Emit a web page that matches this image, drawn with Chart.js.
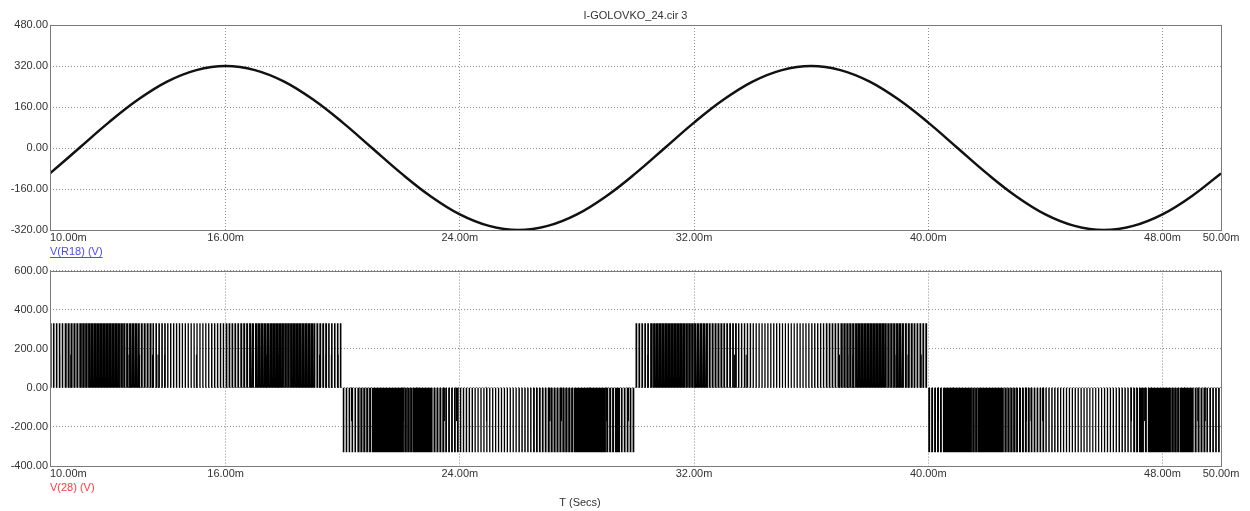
<!DOCTYPE html>
<html>
<head>
<meta charset="utf-8">
<script src="https://cdn.jsdelivr.net/npm/chart.js@4.4.1/dist/chart.umd.min.js"></script>
<style>
  html, body { margin: 0; padding: 0; background: #fff; }
  #wrap { position: relative; width: 1250px; height: 511px; }
  #topChart { position: absolute; left: 0; top: 0; }
  #bottomChart { position: absolute; left: 0; top: 262px; }
</style>
</head>
<body>
<div id="wrap">
  <canvas id="topChart" width="1250" height="262"></canvas>
  <canvas id="bottomChart" width="1250" height="249"></canvas>
</div>
<script>
// Sample Data (times in ms)

const xTicks = [10, 16, 24, 32, 40, 48, 50];
const topYTicks = [480, 320, 160, 0, -160, -320];
const bottomYTicks = [600, 400, 200, 0, -200, -400];

// V(R18): sampled every 1 ms
const sineTimes = [10, 11, 12, 13, 14, 15, 16, 17, 18, 19, 20, 21, 22, 23, 24, 25, 26, 27, 28, 29, 30,
                   31, 32, 33, 34, 35, 36, 37, 38, 39, 40, 41, 42, 43, 44, 45, 46, 47, 48, 49, 50];
const sineValues = [-99, 0, 99, 188, 259, 304, 320, 304, 259, 188, 99, 0, -99, -188, -259, -304, -320, -304, -259, -188, -99,
                    0, 99, 188, 259, 304, 320, 304, 259, 188, 99, 0, -99, -188, -259, -304, -320, -304, -259, -188, -99];

// V(28): PWM blocks, polarity per half cycle
const halfCycleEdges = [10, 20, 30, 40, 50];
const halfCyclePolarity = [1, -1, 1, -1];
const pwmLevel = 330;
const carrierPeriod = 0.1;
// pulse duty estimated from the stripe darkness, one value per 0.5 ms
const pwmDuty = [
  0.55, 0.72, 0.88, 0.92, 0.90, 0.78, 0.68, 0.55, 0.48, 0.45, 0.45, 0.50, 0.60, 0.68, 0.82, 0.92, 0.92, 0.85, 0.65, 0.55,
  0.55, 0.75, 0.90, 0.92, 0.90, 0.82, 0.70, 0.62, 0.50, 0.45, 0.45, 0.45, 0.50, 0.62, 0.72, 0.80, 0.90, 0.90, 0.70, 0.60,
  0.60, 0.88, 0.92, 0.90, 0.75, 0.68, 0.62, 0.50, 0.45, 0.45, 0.42, 0.45, 0.48, 0.58, 0.80, 0.88, 0.90, 0.82, 0.70, 0.62,
  0.65, 0.85, 0.92, 0.90, 0.88, 0.82, 0.68, 0.60, 0.50, 0.45, 0.45, 0.42, 0.45, 0.50, 0.68, 0.85, 0.90, 0.85, 0.68, 0.58
];
// short pulses that stop about half way
const glitchTimes = [10.33, 10.71, 12.70, 13.06, 13.50, 13.69, 13.92, 15.00, 17.39, 17.79, 19.21, 19.43, 19.61, 19.84,
                     20.30, 22.06, 22.54, 23.46, 23.89, 24.91, 27.07, 27.47, 28.44, 29.01, 29.75,
                     30.42, 33.38, 33.78, 36.97, 37.25, 37.43, 38.90, 39.31, 39.53, 39.76,
                     40.34, 40.85, 43.35, 43.52, 43.92, 46.94, 47.40, 47.62, 48.76, 49.22, 49.45];
const glitchLevel = 170;

const labelFont = '11px "Liberation Sans", Arial, sans-serif';

function buildPwm() {
  const pts = [];
  const n = Math.round((halfCycleEdges[4] - halfCycleEdges[0]) / carrierPeriod);
  const perSeg = Math.round(0.5 / carrierPeriod);
  const perHalf = Math.round(10 / carrierPeriod);
  for (let k = 0; k < n; k++) {
    const t0 = halfCycleEdges[0] + k * carrierPeriod;
    const v = pwmLevel * halfCyclePolarity[Math.floor(k / perHalf)];
    const t1 = t0 + pwmDuty[Math.floor(k / perSeg)] * carrierPeriod;
    pts.push({ x: t0, y: 0 }, { x: t0, y: v }, { x: t1, y: v }, { x: t1, y: 0 });
  }
  pts.push({ x: halfCycleEdges[4], y: 0 });
  return pts;
}

function buildGlitches() {
  const pts = [];
  glitchTimes.forEach(t => {
    const half = halfCycleEdges.findIndex((e, i) => t >= e && t < halfCycleEdges[i + 1]);
    pts.push({ x: t, y: 0 }, { x: t, y: glitchLevel * halfCyclePolarity[half] }, { x: t, y: null });
  });
  return pts;
}

// soften the dense pulse train a little, like the screen capture
const softPlugin = {
  id: 'soft',
  beforeDatasetDraw(chart, args) {
    if (args.meta.label === 'V(28) (V)') {
      chart.ctx.save();
      chart.ctx.filter = 'blur(0.7px)';
    }
  },
  afterDatasetDraw(chart, args) {
    if (args.meta.label === 'V(28) (V)') chart.ctx.restore();
  }
};

// frame, x labels and trace names
const framePlugin = {
  id: 'frame',
  afterDraw(chart, args, opts) {
    const { ctx, chartArea: a, scales: { x } } = chart;
    ctx.save();
    ctx.strokeStyle = '#7a7a7a';
    ctx.lineWidth = 1;
    ctx.strokeRect(Math.round(a.left) + 0.5, Math.round(a.top) + 0.5,
                   Math.round(a.right - a.left), Math.round(a.bottom - a.top));
    ctx.font = labelFont;
    ctx.fillStyle = '#333';
    ctx.textBaseline = 'middle';
    xTicks.forEach((v, i) => {
      ctx.textAlign = i === 0 ? 'left' : 'center';
      ctx.fillText(v.toFixed(2) + 'm', x.getPixelForValue(v), a.bottom + 8);
    });
    ctx.textAlign = 'left';
    ctx.fillStyle = opts.color;
    ctx.fillText(opts.label, a.left, a.bottom + 22);
    if (opts.underline) {
      const w = ctx.measureText(opts.label).width;
      ctx.fillRect(a.left, a.bottom + 27, w, 1);
    }
    ctx.fillStyle = '#333';
    ctx.textAlign = 'center';
    if (opts.title) ctx.fillText(opts.title, (a.left + a.right) / 2, 16);
    if (opts.xTitle) ctx.fillText(opts.xTitle, 580, a.bottom + 37);
    ctx.restore();
  }
};

function makeScales(yTicks, xHeight) {
  return {
    x: {
      type: 'linear',
      min: xTicks[0],
      max: xTicks[xTicks.length - 1],
      afterBuildTicks: s => { s.ticks = xTicks.map(v => ({ value: v })); },
      afterFit: s => { s.height = xHeight; },
      ticks: { display: false },
      grid: { color: '#8f8f8f', lineWidth: 1, drawTicks: false },
      border: { display: false, dash: [1, 2] }
    },
    y: {
      type: 'linear',
      min: yTicks[yTicks.length - 1],
      max: yTicks[0],
      afterBuildTicks: s => { s.ticks = yTicks.map(v => ({ value: v })); },
      afterFit: s => { s.width = 50; },
      ticks: {
        padding: 2,
        color: '#333',
        font: { family: '"Liberation Sans", Arial, sans-serif', size: 11 },
        callback: v => v.toFixed(2)
      },
      grid: { color: '#8f8f8f', lineWidth: 1, drawTicks: false },
      border: { display: false, dash: [1, 2] }
    }
  };
}

new Chart(document.getElementById('topChart').getContext('2d'), {
  type: 'line',
  data: {
    datasets: [{
      label: 'V(R18) (V)',
      data: sineTimes.map((t, i) => ({ x: t, y: sineValues[i] })),
      borderColor: '#111',
      borderWidth: 2.5,
      pointRadius: 0,
      tension: 0.4,
      fill: false
    }]
  },
  options: {
    responsive: false,
    animation: false,
    layout: { padding: { top: 25, left: 0, right: 29, bottom: 0 } },
    scales: makeScales(topYTicks, 32),
    plugins: {
      legend: { display: false },
      tooltip: { enabled: false },
      frame: { label: 'V(R18) (V)', color: '#4a4aff', underline: true, title: 'I-GOLOVKO_24.cir 3' }
    }
  },
  plugins: [framePlugin]
});

new Chart(document.getElementById('bottomChart').getContext('2d'), {
  type: 'line',
  data: {
    datasets: [{
      label: 'glitch',
      data: buildGlitches(),
      borderColor: '#000',
      borderWidth: 1,
      pointRadius: 0,
      spanGaps: false,
      fill: false
    }, {
      label: 'V(28) (V)',
      data: buildPwm(),
      borderColor: 'rgba(0,0,0,0)',
      borderWidth: 0,
      backgroundColor: '#000',
      pointRadius: 0,
      tension: 0,
      fill: 'origin'
    }]
  },
  options: {
    responsive: false,
    animation: false,
    layout: { padding: { top: 4, left: 0, right: 29, bottom: 0 } },
    scales: makeScales(bottomYTicks, 45),
    plugins: {
      legend: { display: false },
      tooltip: { enabled: false },
      frame: { label: 'V(28) (V)', color: '#ff3b3b', underline: false, xTitle: 'T (Secs)' }
    }
  },
  plugins: [softPlugin, framePlugin]
});
</script>
</body>
</html>
